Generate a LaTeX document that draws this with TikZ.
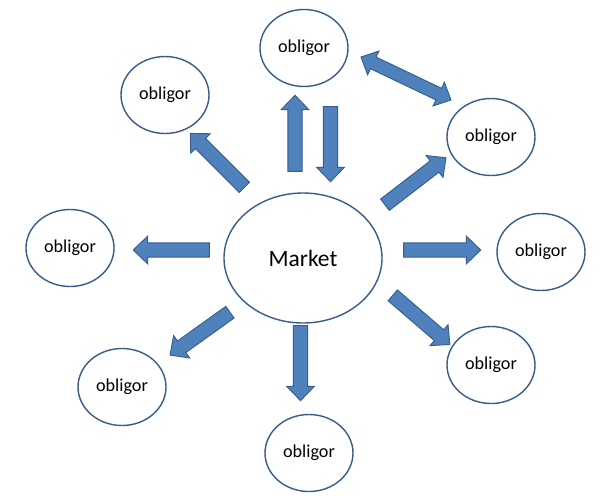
\documentclass[tikz,border=0pt]{standalone}
\usepackage{fontspec}
\setmainfont{Carlito}
\usepackage{xcolor}
\usepackage{tikz}
\usetikzlibrary{shapes,shapes.geometric,shapes.arrows}

\definecolor{arrowblue}{HTML}{4F81BD}
\definecolor{edgeblue}{HTML}{385D8A}

\begin{document}
\begin{tikzpicture}[x=0.03cm, y=-0.03cm]
  % Market and obligors
  \tikzstyle{obligor} = [ellipse, draw=edgeblue, line width=1.2pt, fill=white, minimum width=2.64cm, minimum height=2.31cm, inner sep=0pt, font=\fontsize{15.5}{18}\selectfont]
  \tikzstyle{market} = [ellipse, draw=edgeblue, line width=1.2pt, fill=white, minimum width=4.74cm, minimum height=3.9cm, inner sep=0pt, font=\fontsize{20}{24}\selectfont]
  \tikzstyle{blockarrow} = [single arrow, draw=edgeblue, fill=arrowblue, line width=0.8pt, inner sep=0.2cm, minimum width=0pt, single arrow head extend=0.2cm, single arrow tip angle=88]
  \tikzstyle{twowayarrow} = [double arrow, draw=edgeblue, fill=arrowblue, line width=0.8pt, inner sep=0.18cm, minimum width=0pt, double arrow head extend=0.2cm, double arrow tip angle=88]

  \useasboundingbox (0,0) rectangle (610,495);

  \node[market] (market) at (303,258) {Market};

  \node[obligor] (obN)  at (304,48)  {obligor};
  \node[obligor] (obNW) at (165,95)  {obligor};
  \node[obligor] (obNE) at (491,137) {obligor};
  \node[obligor] (obW)  at (70,248)  {obligor};
  \node[obligor] (obE)  at (541,252) {obligor};
  \node[obligor] (obSE) at (491,365) {obligor};
  \node[obligor] (obSW) at (122,387) {obligor};
  \node[obligor] (obS)  at (309,453) {obligor};

  % Block arrows
  \node[blockarrow, minimum height=2.28cm, rotate=90]     (toN)  at (295,137)   {};
  \node[blockarrow, minimum height=2.25cm, rotate=-90]    (fromN) at (330.5,140.5) {};
  \node[twowayarrow, minimum height=2.99cm, rotate=-25.5] (linkNE) at (406,78.5) {};
  \node[blockarrow, minimum height=2.29cm, rotate=135]    (toNW) at (220,163)   {};
  \node[blockarrow, minimum height=2.31cm, rotate=37.6]   (toNE) at (412.5,183.5) {};
  \node[blockarrow, minimum height=2.28cm, rotate=180]    (toW)  at (175,250)   {};
  \node[blockarrow, minimum height=2.31cm, rotate=0]      (toE)  at (438.5,250) {};
  \node[blockarrow, minimum height=2.26cm, rotate=-40.7]  (toSE) at (418.5,317.5) {};
  \node[blockarrow, minimum height=2.25cm, rotate=-90]    (toS)  at (300.5,359.5) {};
  \node[blockarrow, minimum height=2.21cm, rotate=-144.4] (toSW) at (203,331.5) {};

\end{tikzpicture}
\end{document}
